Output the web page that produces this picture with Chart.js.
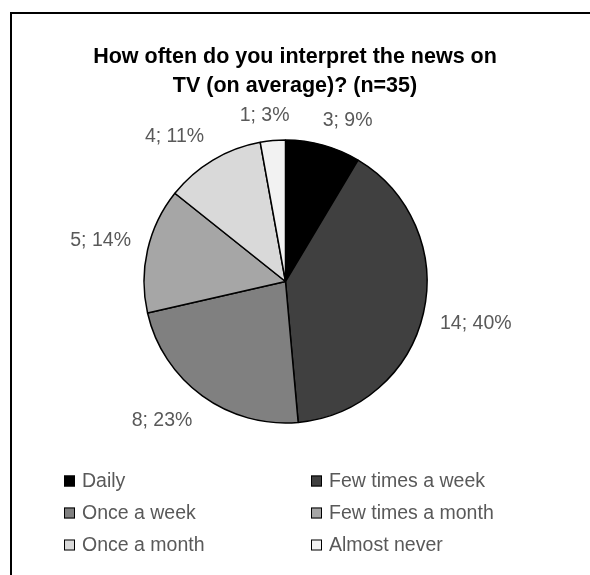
<!DOCTYPE html>
<html>
<head>
<meta charset="utf-8">
<script src="https://cdn.jsdelivr.net/npm/chart.js@4.4.1/dist/chart.umd.min.js"></script>
<style>
  html, body { margin: 0; padding: 0; background: #fff; }
  #wrap { position: relative; width: 590px; height: 575px; }
</style>
</head>
<body>
<div id="wrap"><canvas id="c" width="590" height="575"></canvas></div>
<script>
const titleLines = ["How often do you interpret the news on", "TV (on average)? (n=35)"];
const categories = ["Daily", "Few times a week", "Once a week", "Few times a month", "Once a month", "Almost never"];
const counts = [3, 14, 8, 5, 4, 1];
const percents = [9, 40, 23, 14, 11, 3];
const sliceColors = ["#000000", "#404040", "#808080", "#a6a6a6", "#d9d9d9", "#f2f2f2"];

const FONT = '"Liberation Sans", Arial, sans-serif';

const decorPlugin = {
  id: 'decor',
  beforeDraw(chart) {
    const ctx = chart.ctx;
    ctx.save();
    ctx.fillStyle = '#ffffff';
    ctx.fillRect(0, 0, chart.width, chart.height);
    ctx.strokeStyle = '#000000';
    ctx.lineWidth = 2;
    ctx.strokeRect(11, 13, chart.width + 20, chart.height + 20);
    ctx.restore();
  },
  afterDraw(chart) {
    const ctx = chart.ctx;
    ctx.save();
    // Title
    ctx.fillStyle = '#000000';
    ctx.font = 'bold 21.5px ' + FONT;
    ctx.textAlign = 'center';
    ctx.textBaseline = 'middle';
    titleLines.forEach((t, i) => ctx.fillText(t, 295, 57 + i * 29));

    // Data labels
    const meta = chart.getDatasetMeta(0);
    ctx.font = '19.5px ' + FONT;
    ctx.fillStyle = '#595959';
    const gap = 17, h = 19;
    meta.data.forEach((arc, i) => {
      const p = arc.getProps(['x', 'y', 'startAngle', 'endAngle', 'outerRadius'], true);
      const mid = (p.startAngle + p.endAngle) / 2;
      const txt = counts[i] + '; ' + percents[i] + '%';
      const w = ctx.measureText(txt).width;
      const r = p.outerRadius + gap;
      const px = p.x + Math.cos(mid) * r;
      const py = p.y + Math.sin(mid) * r;
      const kx = Math.max(-1, Math.min(1, Math.cos(mid) * 3));
      const ky = Math.max(-1, Math.min(1, Math.sin(mid) * 3));
      ctx.fillText(txt, px + kx * w / 2, py + ky * h / 2 + 1);
    });

    // Legend (2 columns)
    ctx.font = '19.5px ' + FONT;
    ctx.textAlign = 'left';
    const colX = [64, 311];
    const rowY = [481, 513, 545];
    categories.forEach((c, i) => {
      const x = colX[i % 2];
      const y = rowY[Math.floor(i / 2)];
      ctx.fillStyle = sliceColors[i];
      ctx.fillRect(x, y - 5.5, 11, 11);
      ctx.strokeStyle = '#000000';
      ctx.lineWidth = 1;
      ctx.strokeRect(x + 0.5, y - 5, 10, 10);
      ctx.fillStyle = '#595959';
      ctx.fillText(c, x + 18, y + 1);
    });
    ctx.restore();
  }
};

new Chart(document.getElementById('c'), {
  type: 'pie',
  data: {
    labels: categories,
    datasets: [{
      data: counts,
      backgroundColor: sliceColors,
      borderColor: '#000000',
      borderWidth: 1.5
    }]
  },
  options: {
    responsive: false,
    animation: false,
    radius: 141.5,
    layout: { padding: { left: 144, right: 163, top: 140, bottom: 152 } },
    plugins: {
      legend: { display: false },
      title: { display: false },
      tooltip: { enabled: false }
    }
  },
  plugins: [decorPlugin]
});
</script>
</body>
</html>
